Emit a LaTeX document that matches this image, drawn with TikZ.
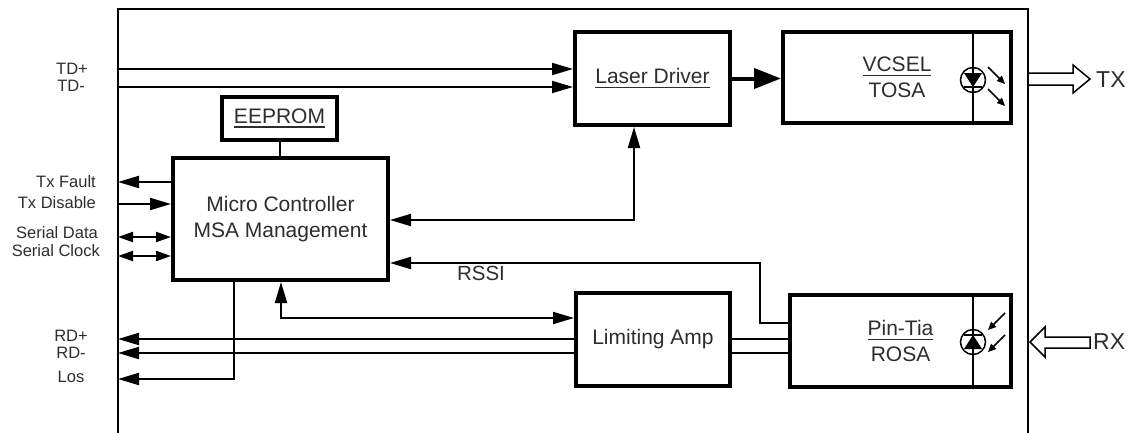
\documentclass[tikz,border=0pt]{standalone}
\usepackage{fontspec}
\setmainfont{Liberation Sans}
\usetikzlibrary{arrows.meta}
\definecolor{txt}{RGB}{45,45,45}
\newcommand{\myul}[1]{\setbox0\hbox{#1}\rlap{\raisebox{-4.5pt}{\rule{\wd0}{1.6pt}}}\box0}
\tikzset{
  box/.style={draw=black,line width=4pt,inner sep=0pt,align=center,text=txt,
    font=\fontsize{21}{25.5}\selectfont},
  conn/.style={line width=2pt},
  tip/.style={-{Triangle[length=21pt,width=12pt]}},
  sidelbl/.style={text=txt,inner sep=0pt,font=\fontsize{16.5}{18}\selectfont},
  thin/.style={line width=1.5pt},
}
\begin{document}
\begin{tikzpicture}[x=1pt,y=-1pt]
\useasboundingbox (0,0) rectangle (1136,432);
% outer frame
\coordinate (fbl) at (118,434);
\coordinate (ftl) at (118,9);
\coordinate (ftr) at (1028,9);
\coordinate (fbr) at (1028,434);
\draw[line width=2pt] (fbl) -- (ftl) -- (ftr) -- (fbr);

% boxes
\node[box,minimum width=155pt,minimum height=93pt] (ld) at (652.5,78.5) {\myul{Laser Driver}};
\node[box,minimum width=228pt,minimum height=91pt] (vc) at (897,77.5) {\myul{VCSEL}\\TOSA};
\node[box,minimum width=115pt,minimum height=43pt] (ee) at (279.5,118.5) {\myul{EEPROM}};
\node[box,minimum width=215pt,minimum height=122pt] (mc) at (280.5,219) {Micro Controller\\MSA Management};
\node[box,minimum width=154pt,minimum height=93pt] (la) at (653,339.5) {Limiting Amp};
\node[box,minimum width=221pt,minimum height=92pt] (pt) at (900.5,341) {\myul{Pin-Tia}\\ROSA};

% frame coordinates
\coordinate (tdp) at (118,69);
\coordinate (tdm) at (118,87);
\coordinate (txf) at (118,182);
\coordinate (txd) at (118,204);
\coordinate (sda) at (118,237);
\coordinate (scl) at (118,256);
\coordinate (rdp) at (118,339);
\coordinate (rdm) at (118,353);
\coordinate (los) at (118,379);
\coordinate (losc) at (234,379);
\coordinate (ldb) at (634,220);
\coordinate (rs1) at (760,323);
\coordinate (rs2) at (760,263);
\coordinate (la1) at (281,318);

% TD lines
\draw[conn,tip] (tdp) -- (tdp -| ld.west);
\draw[conn,tip] (tdm) -- (tdm -| ld.west);
% laser driver to vcsel
\draw[line width=4pt,-{Triangle[length=27pt,width=20pt]}] (ld.east) -- (ld.east -| vc.west);
% eeprom to mc
\draw[line width=2pt] (ee.south) -- (ee.south |- mc.north);
% left side signals
\draw[conn,tip] (txf -| mc.west) -- (txf);
\draw[conn,tip] (txd) -- (txd -| mc.west);
\draw[conn,{Triangle[length=15pt,width=10pt]}-{Triangle[length=15pt,width=10pt]}] (sda) -- (sda -| mc.west);
\draw[conn,{Triangle[length=15pt,width=10pt]}-{Triangle[length=15pt,width=10pt]}] (scl) -- (scl -| mc.west);
% mc <-> laser driver
\draw[conn,{Triangle[length=21pt,width=12pt]}-{Triangle[length=21pt,width=12pt]}] (ldb -| mc.east) -- (ldb) -- (ldb |- ld.south);
% RSSI
\draw[conn,tip] (rs1 -| pt.west) -- (rs1) -- (rs2) -- (rs2 -| mc.east);
% mc <-> limiting amp
\draw[conn,{Triangle[length=21pt,width=12pt]}-{Triangle[length=21pt,width=12pt]}] (la1 |- mc.south) -- (la1) -- (la1 -| la.west);
% limiting amp to pin-tia
\draw[conn] (rdp -| la.east) -- (rdp -| pt.west);
\draw[conn] (rdm -| la.east) -- (rdm -| pt.west);
% RD outputs
\draw[conn,tip] (rdp -| la.west) -- (rdp);
\draw[conn,tip] (rdm -| la.west) -- (rdm);
% Los
\draw[conn,tip] (losc |- mc.south) -- (losc) -- (los);

% labels
\node[sidelbl] (ltdp) at (72,69) {TD+};
\node[sidelbl] (ltdm) at (71,86) {TD-};
\node[sidelbl,anchor=east] (ltxf) at (96,182) {Tx Fault};
\node[sidelbl,anchor=east] (ltxd) at (96,203) {Tx Disable};
\node[sidelbl,anchor=east] (lsda) at (98,233) {Serial Data};
\node[sidelbl,anchor=east] (lscl) at (100,251) {Serial Clock};
\node[sidelbl] (lrdp) at (71,336) {RD+};
\node[sidelbl] (lrdm) at (71,353) {RD-};
\node[sidelbl] (llos) at (71,377) {Los};
\node[text=txt,inner sep=0pt,font=\fontsize{20.5}{22}\selectfont] (lrssi) at (481,273) {RSSI};
\node[text=txt,inner sep=0pt,font=\fontsize{23}{25}\selectfont,anchor=west] (ltx) at (1096,80) {TX};
\node[text=txt,inner sep=0pt,font=\fontsize{23}{25}\selectfont,anchor=west] (lrx) at (1093,342) {RX};

% hollow arrows
\draw[line width=1.5pt,fill=white] (1029,73) -- (1073,73) -- (1073,65) -- (1090,79) -- (1073,93) -- (1073,85) -- (1029,85);
\draw[line width=1.5pt,fill=white] (1090,337) -- (1045,337) -- (1045,327) -- (1030,342) -- (1045,357) -- (1045,348) -- (1090,348) -- cycle;

% VCSEL diode
\draw[thin] (973,32) -- (973,123);
\draw[thin,fill=white] (973,80) circle (12.5);
\draw[thin] (973,68) -- (973,92);
\fill (964,73) -- (982,73) -- (973,87) -- cycle;
\draw[thin] (964,87) -- (982,87);
\draw[thin,-{Triangle[length=8pt,width=7pt]}] (988,67) -- (1005,84);
\draw[thin,-{Triangle[length=8pt,width=7pt]}] (988,89) -- (1005,106);

% ROSA diode
\draw[thin] (973,295) -- (973,387);
\draw[thin,fill=white] (973,342) circle (12.5);
\draw[thin] (973,330) -- (973,354);
\fill (964,349) -- (982,349) -- (973,335) -- cycle;
\draw[thin] (964,335) -- (982,335);
\draw[thin,-{Triangle[length=8pt,width=7pt]}] (1005,313) -- (988,330);
\draw[thin,-{Triangle[length=8pt,width=7pt]}] (1005,335) -- (988,352);
\end{tikzpicture}
\end{document}
